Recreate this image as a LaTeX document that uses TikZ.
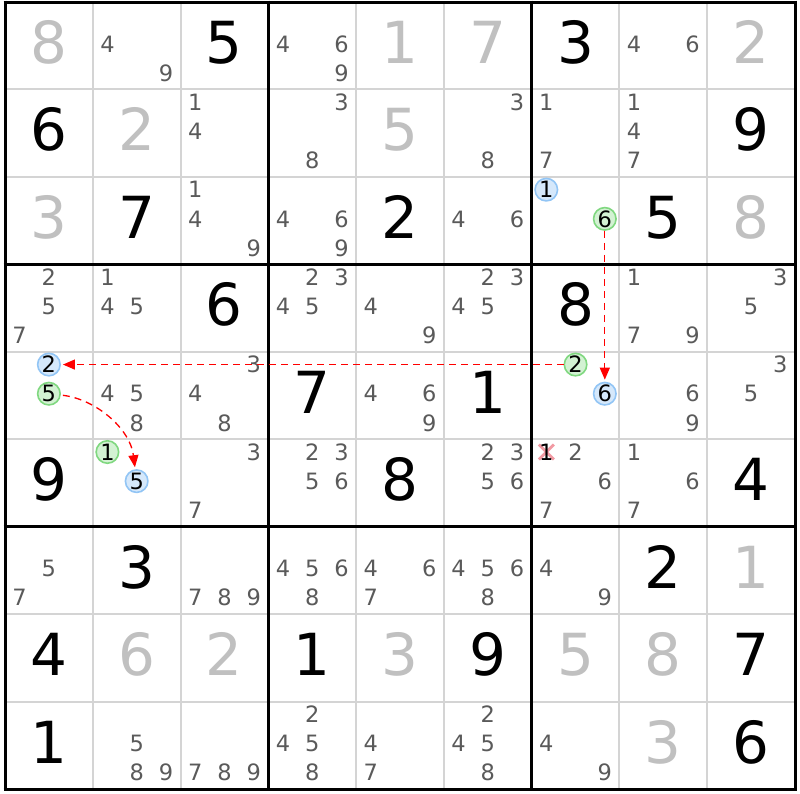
\documentclass[tikz,border=0pt]{standalone}
\usepackage{fontspec}
\setmainfont{DejaVu Sans}
\usetikzlibrary{arrows.meta}
\definecolor{candc}{HTML}{5A5A5A}
\definecolor{solvedc}{HTML}{C0C0C0}
\definecolor{thinc}{HTML}{D4D4D4}
\definecolor{bluefill}{HTML}{D5E8FB}
\definecolor{blueline}{HTML}{92C5F5}
\definecolor{greenfill}{HTML}{D3F2D3}
\definecolor{greenline}{HTML}{80D880}
\definecolor{crossc}{HTML}{F29AA3}
\newcommand\CW{87.778}
\newcommand\CH{87.444}
\newcommand\candpos[3]{%
  \pgfmathsetmacro\cx{5+#2*\CW+(mod(#3-1,3)+0.5)*\CW/3}%
  \pgfmathsetmacro\cy{2+#1*\CH+(floor((#3-1)/3)+0.5)*\CH/3-1.8}}
\newcommand\cands[3]{%
  \foreach \d in {#3}{\candpos{#1}{#2}{\d}\node[cand] (c#1#2\d) at (\cx,\cy) {\d};}}
\newcommand\bigdigit[4]{%
  \pgfmathsetmacro\cx{5+(#3+0.5)*\CW}%
  \pgfmathsetmacro\cy{2+(#2+0.5)*\CH+17.8}%
  \node[#1] (d#2#3) at (\cx,\cy) {#4};}
\tikzset{
  cand/.style={inner sep=0pt, text=candc, font=\fontsize{22.5}{22.5}\selectfont},
  bigd/.style={anchor=base, inner sep=0pt, font=\fontsize{58}{58}\selectfont},
  given/.style={bigd, text=black},
  solved/.style={bigd, text=solvedc},
  circ/.style={circle, inner sep=0pt, minimum size=22.5pt, line width=1.6pt, text=black, font=\fontsize{22.5}{22.5}\selectfont},
  bluecirc/.style={circ, fill=bluefill, draw=blueline},
  greencirc/.style={circ, fill=greenfill, draw=greenline},
  thinline/.style={draw=thinc, line width=2pt},
  thickline/.style={draw=black, line width=3pt},
  arr/.style={draw=red, dash pattern=on 7pt off 5pt, line width=1.3pt, -{Triangle[length=12pt,width=10pt]}, shorten >=2pt},
}
\begin{document}
\begin{tikzpicture}[x=1pt,y=-1pt]
\useasboundingbox (0,0) rectangle (800,793);
\fill[white] (0,0) rectangle (800,793);
% grid
\foreach \i in {1,2,4,5,7,8}{
  \draw[thinline] ({5+\i*\CW},2) -- ({5+\i*\CW},789);
  \draw[thinline] (5,{2+\i*\CH}) -- (795,{2+\i*\CH});
}
\foreach \i in {0,3,6,9}{
  \draw[thickline] ({5+\i*\CW},0.5) -- ({5+\i*\CW},790.5);
  \draw[thickline] (3.5,{2+\i*\CH}) -- (796.5,{2+\i*\CH});
}
% given digits
\bigdigit{given}{0}{2}{5}\bigdigit{given}{0}{6}{3}
\bigdigit{given}{1}{0}{6}\bigdigit{given}{1}{8}{9}
\bigdigit{given}{2}{1}{7}\bigdigit{given}{2}{4}{2}\bigdigit{given}{2}{7}{5}
\bigdigit{given}{3}{2}{6}\bigdigit{given}{3}{6}{8}
\bigdigit{given}{4}{3}{7}\bigdigit{given}{4}{5}{1}
\bigdigit{given}{5}{0}{9}\bigdigit{given}{5}{4}{8}\bigdigit{given}{5}{8}{4}
\bigdigit{given}{6}{1}{3}\bigdigit{given}{6}{7}{2}
\bigdigit{given}{7}{0}{4}\bigdigit{given}{7}{3}{1}\bigdigit{given}{7}{5}{9}\bigdigit{given}{7}{8}{7}
\bigdigit{given}{8}{0}{1}\bigdigit{given}{8}{8}{6}
% solved digits
\bigdigit{solved}{0}{0}{8}\bigdigit{solved}{0}{4}{1}\bigdigit{solved}{0}{5}{7}\bigdigit{solved}{0}{8}{2}
\bigdigit{solved}{1}{1}{2}\bigdigit{solved}{1}{4}{5}
\bigdigit{solved}{2}{0}{3}\bigdigit{solved}{2}{8}{8}
\bigdigit{solved}{6}{8}{1}
\bigdigit{solved}{7}{1}{6}\bigdigit{solved}{7}{2}{2}\bigdigit{solved}{7}{4}{3}\bigdigit{solved}{7}{6}{5}\bigdigit{solved}{7}{7}{8}
\bigdigit{solved}{8}{7}{3}
% candidates
\cands{0}{1}{4,9}\cands{0}{3}{4,6,9}\cands{0}{7}{4,6}
\cands{1}{2}{1,4}\cands{1}{3}{3,8}\cands{1}{5}{3,8}\cands{1}{6}{1,7}\cands{1}{7}{1,4,7}
\cands{2}{2}{1,4,9}\cands{2}{3}{4,6,9}\cands{2}{5}{4,6}
\cands{3}{0}{2,5,7}\cands{3}{1}{1,4,5}\cands{3}{3}{2,3,4,5}\cands{3}{4}{4,9}\cands{3}{5}{2,3,4,5}\cands{3}{7}{1,7,9}\cands{3}{8}{3,5}
\cands{4}{1}{4,5,8}\cands{4}{2}{3,4,8}\cands{4}{4}{4,6,9}\cands{4}{7}{6,9}\cands{4}{8}{3,5}
\cands{5}{2}{3,7}\cands{5}{3}{2,3,5,6}\cands{5}{5}{2,3,5,6}\cands{5}{6}{2,6,7}\cands{5}{7}{1,6,7}
\cands{6}{0}{5,7}\cands{6}{2}{7,8,9}\cands{6}{3}{4,5,6,8}\cands{6}{4}{4,6,7}\cands{6}{5}{4,5,6,8}\cands{6}{6}{4,9}
\cands{8}{1}{5,8,9}\cands{8}{2}{7,8,9}\cands{8}{3}{2,4,5,8}\cands{8}{4}{4,7}\cands{8}{5}{2,4,5,8}\cands{8}{6}{4,9}
% eliminated candidate
\candpos{5}{6}{1}
\draw[crossc, line width=2.8pt] (\cx-7.5,\cy-7.5) -- (\cx+7.5,\cy+7.5) (\cx-7.5,\cy+7.5) -- (\cx+7.5,\cy-7.5);
\node[cand, text=black] (x561) at (\cx,\cy) {1};
% highlighted candidates
\candpos{2}{6}{1}\node[bluecirc] (b261) at (\cx,\cy) {1};
\candpos{2}{6}{6}\node[greencirc] (g266) at (\cx,\cy) {6};
\candpos{4}{6}{2}\node[greencirc] (g462) at (\cx,\cy) {2};
\candpos{4}{6}{6}\node[bluecirc] (b466) at (\cx,\cy) {6};
\candpos{4}{0}{2}\node[bluecirc] (b402) at (\cx,\cy) {2};
\candpos{4}{0}{5}\node[greencirc] (g405) at (\cx,\cy) {5};
\candpos{5}{1}{1}\node[greencirc] (g511) at (\cx,\cy) {1};
\candpos{5}{1}{5}\node[bluecirc] (b515) at (\cx,\cy) {5};
% chain links
\draw[arr] (g266) -- (b466);
\draw[arr] (g462) -- (b402);
\draw[arr, shorten <=2pt] (g405) .. controls (95,399) and (130,428) .. (b515);
\end{tikzpicture}
\end{document}
